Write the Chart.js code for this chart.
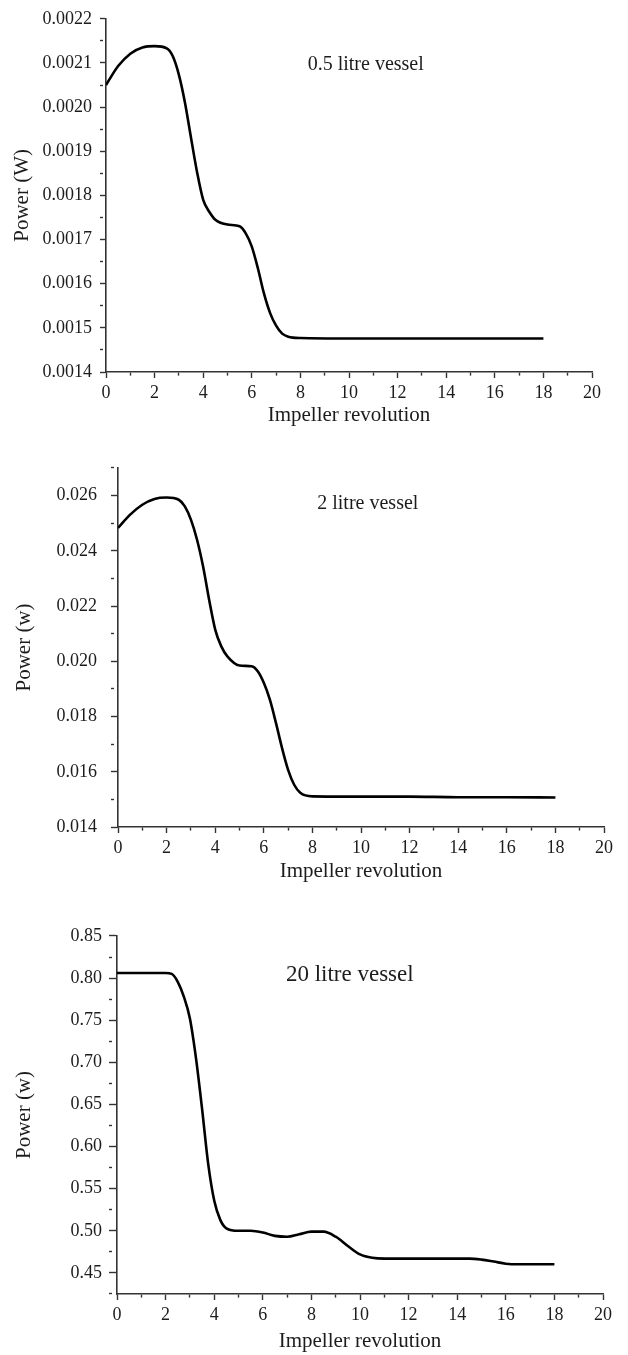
<!DOCTYPE html>
<html>
<head>
<meta charset="utf-8">
<script src="https://cdn.jsdelivr.net/npm/chart.js@4.4.1/dist/chart.umd.min.js"></script>
<style>
  body { margin: 0; background: #fff; }
  canvas { display: block; }
</style>
</head>
<body>
<canvas id="c1" width="628" height="440"></canvas>
<canvas id="c2" width="628" height="450"></canvas>
<canvas id="c3" width="628" height="465"></canvas>
<script>
// impeller revolutions / power
var rev05 = [0, 0.5, 1, 1.5, 2, 2.5, 2.75, 3, 3.25, 3.5, 3.75, 4, 4.25, 4.5, 5, 5.5, 5.75, 6, 6.25, 6.5, 6.75, 7, 7.25, 7.5, 8, 10, 12, 14, 16, 18];
var power05 = [0.00205, 0.002093, 0.002121, 0.002135, 0.002138, 0.002133, 0.002115, 0.002073, 0.00201, 0.00193, 0.001852, 0.00179, 0.001763, 0.001745, 0.001734, 0.00173, 0.001714, 0.001684, 0.001635, 0.001578, 0.001534, 0.001505, 0.001487, 0.00148, 0.001477, 0.001476, 0.001476, 0.001476, 0.001476, 0.001476];

var rev2 = [0, 0.5, 1, 1.5, 2, 2.5, 2.75, 3, 3.25, 3.5, 3.75, 4, 4.25, 4.5, 5, 5.5, 5.75, 6, 6.25, 6.5, 6.75, 7, 7.25, 7.5, 8, 10, 12, 14, 16, 18];
var power2 = [0.02483, 0.02531, 0.02567, 0.02588, 0.02593, 0.02585, 0.02561, 0.02513, 0.02441, 0.02344, 0.02223, 0.02115, 0.02054, 0.02018, 0.01985, 0.01982, 0.01964, 0.01922, 0.01861, 0.01777, 0.01686, 0.01607, 0.01553, 0.01524, 0.01511, 0.0151, 0.0151, 0.01508, 0.01508, 0.01507];

var rev20 = [0, 1, 2, 2.25, 2.5, 2.75, 3, 3.25, 3.5, 3.75, 4, 4.25, 4.5, 5, 5.5, 6, 6.5, 7, 7.5, 8, 8.5, 9, 9.5, 10, 10.5, 11, 12, 13, 14, 14.5, 15, 15.5, 16, 16.5, 17, 18];
var power20 = [0.806, 0.806, 0.806, 0.805, 0.7956, 0.778, 0.752, 0.705, 0.645, 0.58, 0.536, 0.513, 0.503, 0.5, 0.5, 0.498, 0.494, 0.493, 0.496, 0.499, 0.499, 0.493, 0.482, 0.472, 0.468, 0.467, 0.467, 0.467, 0.467, 0.467, 0.4658, 0.4635, 0.461, 0.4603, 0.4603, 0.4603];

// major tick labels
var xTicks = [0, 2, 4, 6, 8, 10, 12, 14, 16, 18, 20];
var yTicks05 = [0.0014, 0.0015, 0.0016, 0.0017, 0.0018, 0.0019, 0.0020, 0.0021, 0.0022];
var yTicks2 = [0.014, 0.016, 0.018, 0.020, 0.022, 0.024, 0.026];
var yTicks20 = [0.45, 0.50, 0.55, 0.60, 0.65, 0.70, 0.75, 0.80, 0.85];

var SERIF = '"Liberation Serif", "Times New Roman", serif';
var INK = '#1c1c1c';

// text label inside the plot ("0.5 litre vessel" etc.)
var vesselLabel = {
  id: 'vesselLabel',
  afterDatasetsDraw: function(chart, args, opts) {
    var ctx = chart.ctx;
    ctx.save();
    ctx.font = opts.size + 'px ' + SERIF;
    ctx.fillStyle = INK;
    ctx.textBaseline = 'middle';
    ctx.fillText(opts.text, chart.scales.x.getPixelForValue(opts.x), chart.scales.y.getPixelForValue(opts.y));
    ctx.restore();
  }
};

// majors from the list, minors halfway between them
function withMinors(majors, min, max) {
  var step = majors[1] - majors[0];
  var out = [];
  var v = majors[0];
  while (v - step / 2 >= min - 1e-9) v -= step / 2;
  for (; v <= max + 1e-9; v += step / 2) out.push(v);
  return out;
}

function isMajor(v, majors) {
  for (var i = 0; i < majors.length; i++) {
    if (Math.abs(v - majors[i]) < 1e-9) return true;
  }
  return false;
}

function makeChart(id, rev, power, p) {
  var pts = rev.map(function(r, i) { return {x: r, y: power[i]}; });
  var tickDash = function(majors) {
    return function(ctx) { return isMajor(ctx.tick.value, majors) ? [] : [3, 60]; };
  };
  return new Chart(document.getElementById(id), {
    type: 'line',
    data: {
      datasets: [{
        data: pts,
        borderColor: '#000',
        borderWidth: 2.6,
        pointRadius: 0,
        cubicInterpolationMode: 'monotone',
        fill: false
      }]
    },
    options: {
      responsive: false,
      devicePixelRatio: 1,
      animation: false,
      events: [],
      layout: { padding: { left: 0, top: p.top, right: p.right, bottom: 0 } },
      plugins: {
        legend: { display: false },
        tooltip: { enabled: false },
        vesselLabel: { text: p.label, x: p.labelX, y: p.labelY, size: p.labelSize }
      },
      scales: {
        x: {
          type: 'linear',
          min: 0,
          max: 20,
          afterBuildTicks: function(s) {
            s.ticks = withMinors(xTicks, 0, 20).map(function(v) { return {value: v}; });
          },
          afterFit: function(s) { s.height = p.xHeight; },
          border: { color: '#333', width: 1.6 },
          grid: {
            drawOnChartArea: false,
            tickLength: 6,
            tickColor: '#333',
            tickWidth: 1.4,
            tickBorderDash: tickDash(xTicks)
          },
          ticks: {
            autoSkip: false,
            maxRotation: 0,
            padding: p.xPad,
            color: INK,
            font: { family: SERIF, size: 18 },
            callback: function(v) { return isMajor(v, xTicks) ? String(Math.round(v)) : ''; }
          },
          title: {
            display: true,
            text: 'Impeller revolution',
            color: INK,
            font: { family: SERIF, size: 21 },
            padding: { top: p.xTitlePad, bottom: p.xTitlePad }
          }
        },
        y: {
          min: p.yMin,
          max: p.yMax,
          afterBuildTicks: function(s) {
            s.ticks = withMinors(p.yTicks, p.yMin, p.yMax).map(function(v) { return {value: v}; });
          },
          afterFit: function(s) { s.width = p.yWidth; },
          border: { color: '#333', width: 1.6 },
          grid: {
            drawOnChartArea: false,
            tickLength: p.yTick,
            tickColor: '#333',
            tickWidth: 1.4,
            tickBorderDash: tickDash(p.yTicks)
          },
          ticks: {
            autoSkip: false,
            padding: p.yPad,
            color: INK,
            font: { family: SERIF, size: 18 },
            callback: function(v) { return isMajor(v, p.yTicks) ? v.toFixed(p.digits) : ''; }
          },
          title: {
            display: true,
            text: p.yTitle,
            color: INK,
            font: { family: SERIF, size: 21 },
            padding: { top: p.yTitlePad, bottom: 0 }
          }
        }
      }
    },
    plugins: [vesselLabel]
  });
}

makeChart('c1', rev05, power05, {
  top: 15, right: 36, yWidth: 106, xHeight: 68,
  yMin: 0.0014, yMax: 0.0022, yTicks: yTicks05, digits: 4,
  yTick: 6, yPad: 8, xPad: 4, xTitlePad: 12, yTitlePad: 10,
  yTitle: 'Power (W)',
  label: '0.5 litre vessel', labelX: 8.3, labelY: 0.002097, labelSize: 20
});

makeChart('c2', rev2, power2, {
  top: 28, right: 24, yWidth: 118, xHeight: 63,
  yMin: 0.014, yMax: 0.027, yTicks: yTicks2, digits: 3,
  yTick: 7, yPad: 14, xPad: 4, xTitlePad: 6, yTitlePad: 12,
  yTitle: 'Power (w)',
  label: '2 litre vessel', labelX: 8.2, labelY: 0.02571, labelSize: 20
});

makeChart('c3', rev20, power20, {
  top: 46, right: 25, yWidth: 117, xHeight: 61,
  yMin: 0.425, yMax: 0.85, yTicks: yTicks20, digits: 2,
  yTick: 8, yPad: 7, xPad: 4, xTitlePad: 1, yTitlePad: 12,
  yTitle: 'Power (w)',
  label: '20 litre vessel', labelX: 6.95, labelY: 0.8036, labelSize: 23
});
</script>
</body>
</html>
